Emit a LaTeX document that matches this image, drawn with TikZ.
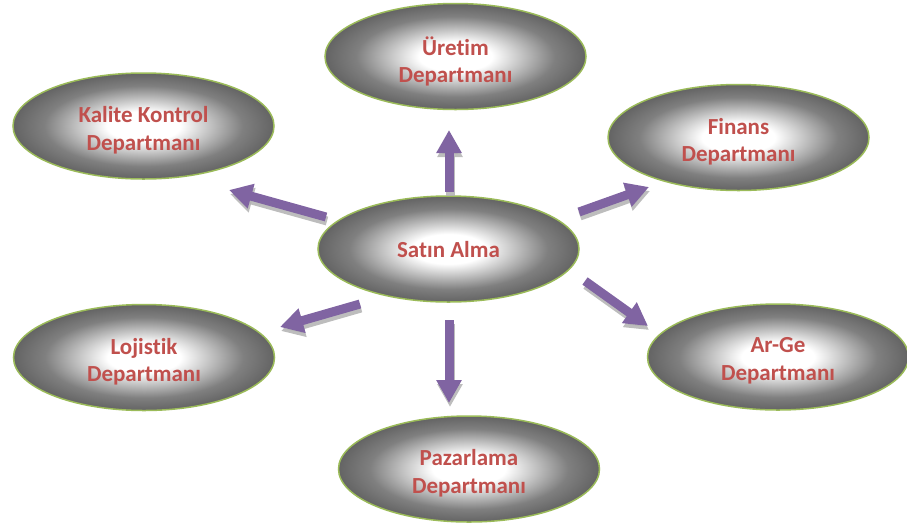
\documentclass[tikz,border=0pt]{standalone}
\usepackage{fontspec}
\setmainfont{Carlito}[BoldFont={Carlito Bold}, Ligatures=NoCommon]
\usetikzlibrary{shapes.geometric,arrows.meta}
\definecolor{txtred}{HTML}{C0504D}
\definecolor{edgegreen}{HTML}{9BBB59}
\definecolor{arrowpurple}{HTML}{8064A2}
\pgfdeclareradialshading{ellshade}{\pgfpoint{0bp}{0bp}}{color(0bp)=(white); color(7bp)=(white); color(19bp)=(black!50); color(30bp)=(black!70); color(50bp)=(black!78)}
\begin{document}
\begin{tikzpicture}[x=1pt,y=-1pt,
  dept/.style={ellipse, draw=edgegreen, line width=1.5pt, shading=ellshade,
    minimum width=261pt, minimum height=106pt, inner sep=0pt},
  depttext/.style={align=center, inner sep=0pt, text=txtred,
    font=\bfseries\fontsize{23}{27.5}\selectfont},
  flow/.style={line width=9pt, arrowpurple, -{Triangle[width=24pt,length=23pt]}},
  flowshadow/.style={line width=9pt, black!30, opacity=0.85,
    -{Triangle[width=24pt,length=23pt]}, transform canvas={xshift=1pt,yshift=-4pt}}]
\useasboundingbox (0,0) rectangle (907,523);

\node[dept] (uretim) at (455.5,56.5) {};
\node[dept] (kalite) at (143.5,126) {};
\node[dept] (finans) at (738.5,137.5) {};
\node[dept] (satin) at (448.5,249) {};
\node[dept] (lojistik) at (144,357.5) {};
\node[dept] (arge) at (778,357) {};
\node[dept] (pazar) at (469,469) {};

\node[depttext, yshift=-5pt] (t-uretim) at (uretim.center) {Üretim\\Departmanı};
\node[depttext, yshift=-4pt] (t-kalite) at (kalite.center) {Kalite Kontrol\\Departmanı};
\node[depttext, yshift=-4pt] (t-finans) at (finans.center) {Finans\\Departmanı};
\node[depttext, yshift=-1pt] (t-satin) at (satin.center) {Satın Alma};
\node[depttext, yshift=-4pt] (t-lojistik) at (lojistik.center) {Lojistik\\Departmanı};
\node[depttext, yshift=-4pt] (t-arge) at (arge.center) {Ar-Ge\\Departmanı};
\node[depttext, yshift=-4pt] (t-pazar) at (pazar.center) {Pazarlama\\Departmanı};

\coordinate (uA) at (449,192); \coordinate (uB) at (449,130);
\coordinate (kA) at (326,217); \coordinate (kB) at (229,190);
\coordinate (fA) at (579,212); \coordinate (fB) at (649,187);
\coordinate (lA) at (360,304); \coordinate (lB) at (280,327);
\coordinate (pA) at (449,320); \coordinate (pB) at (449,403);
\coordinate (aA) at (585,281); \coordinate (aB) at (648,326);

\foreach \a/\b in {uA/uB,kA/kB,fA/fB,lA/lB,pA/pB,aA/aB}{
  \draw[flowshadow] (\a) -- (\b);
  \draw[flow] (\a) -- (\b);
}
\end{tikzpicture}
\end{document}
